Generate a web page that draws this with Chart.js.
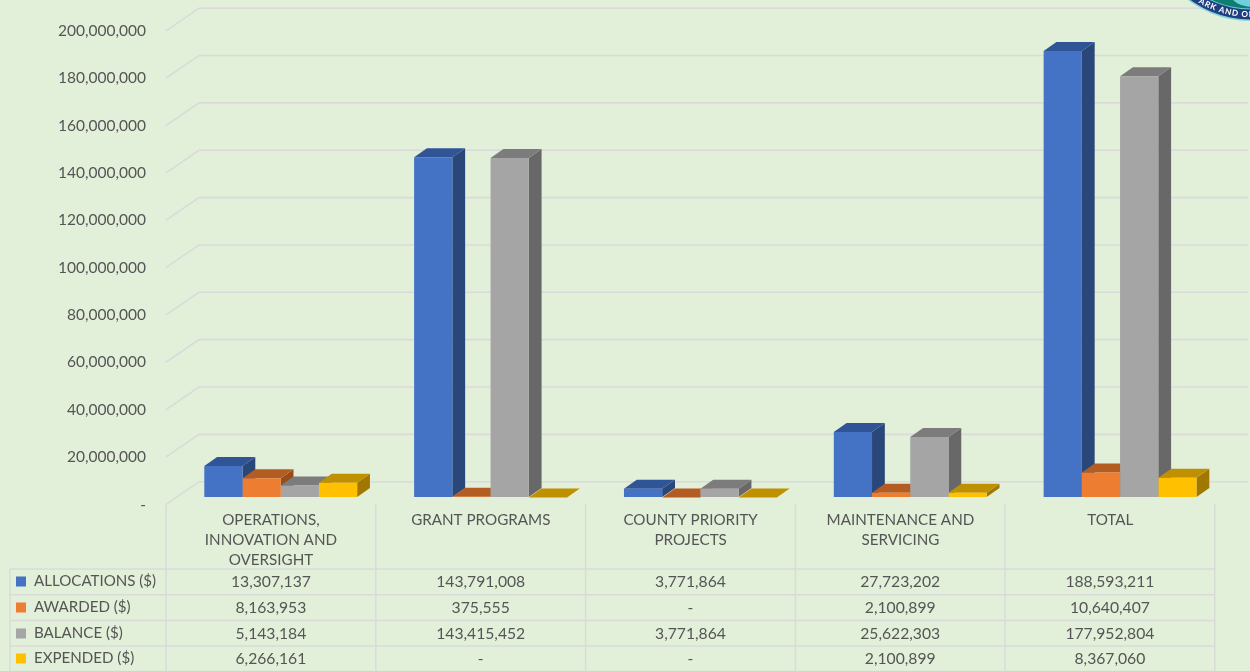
<!DOCTYPE html>
<html><head><meta charset="utf-8">
<style>html,body{margin:0;padding:0;background:#E2EFD9;overflow:hidden}canvas{display:block}</style>
<script src="https://cdn.jsdelivr.net/npm/chart.js@4"></script>
</head><body><canvas id="c" width="1250" height="671"></canvas>
<script>
const categories = ["OPERATIONS, INNOVATION AND OVERSIGHT","GRANT PROGRAMS","COUNTY PRIORITY PROJECTS","MAINTENANCE AND SERVICING","TOTAL"];
const allocations = [13307137,143791008,3771864,27723202,188593211];
const awarded = [8163953,375555,0,2100899,10640407];
const balance = [5143184,143415452,3771864,25622303,177952804];
const expended = [6266161,0,0,2100899,8367060];
const seriesNames = ["ALLOCATIONS ($)","AWARDED ($)","BALANCE ($)","EXPENDED ($)"];
const seriesValues = [allocations,awarded,balance,expended];
const seriesColors = ["#4472C4","#ED7D31","#A5A5A5","#FFC000"];
const topColors = ["#2F5597","#B45D22","#7C7C7C","#BF9000"];
const sideColors = ["#2A4779","#964E1D","#686868","#A07800"];
const FONT = "Lato, 'Open Sans', sans-serif";
const TEXT = "#555555", LINE = "#DADADA";
const fmt = v => v === 0 ? "-" : v.toLocaleString("en-US");
function wrap(s){const out=[];let cur="";for(const w of s.split(" ")){if(cur&&(cur+" "+w).length>18){out.push(cur);cur=w}else cur=cur?cur+" "+w:w}out.push(cur);return out}

const depth3d = {
  id:"depth3d",
  beforeDatasetsDraw(chart){
    const {ctx}=chart, y=chart.scales.y;
    ctx.save();
    ctx.strokeStyle=LINE;ctx.lineWidth=1.6;
    y.ticks.forEach(t=>{
      const p=y.getPixelForValue(t.value);
      ctx.beginPath();ctx.moveTo(166,p+6.7);ctx.lineTo(199,p-15.9);ctx.lineTo(1248,p-15.9);ctx.stroke();
    });
    const dx=12.8,dy=9;
    chart.data.datasets.forEach((d,i)=>{
      chart.getDatasetMeta(i).data.forEach(el=>{
        const {x,y:top,base,width}=el.getProps(["x","y","base","width"],true);
        const l=x-width/2,r=x+width/2;
        ctx.fillStyle=sideColors[i];
        ctx.beginPath();ctx.moveTo(r,top);ctx.lineTo(r+dx,top-dy);ctx.lineTo(r+dx,base-dy);ctx.lineTo(r,base);ctx.closePath();ctx.fill();
        ctx.fillStyle=topColors[i];
        ctx.beginPath();ctx.moveTo(l,top);ctx.lineTo(l+dx,top-dy);ctx.lineTo(r+dx,top-dy);ctx.lineTo(r,top);ctx.closePath();ctx.fill();
      });
    });
    ctx.restore();
  },
  afterDraw(chart){
    const {ctx}=chart;
    const cols=[166,375.8,585.6,795.4,1005,1214.8];
    const rows=[569,594.7,620.5,646,671.5];
    ctx.save();
    ctx.strokeStyle=LINE;ctx.lineWidth=1.4;
    cols.forEach(x=>{ctx.beginPath();ctx.moveTo(x,504);ctx.lineTo(x,671);ctx.stroke()});
    ctx.beginPath();ctx.moveTo(10,569);ctx.lineTo(10,671);ctx.stroke();
    rows.forEach(y=>{ctx.beginPath();ctx.moveTo(10,y);ctx.lineTo(1215,y);ctx.stroke()});
    ctx.fillStyle=TEXT;ctx.textBaseline="middle";
    const centers=[581.5,607.5,633.5,658.5];
    seriesNames.forEach((n,i)=>{
      ctx.fillStyle=seriesColors[i];
      ctx.fillRect(16,centers[i]-5,10,10);
      ctx.fillStyle=TEXT;ctx.textAlign="left";
      ctx.font="15.1px "+FONT;
      ctx.fillText(n,34,centers[i]);
      ctx.textAlign="center";
      ctx.font="15.7px "+FONT;
      seriesValues[i].forEach((v,j)=>ctx.fillText(fmt(v),(cols[j]+cols[j+1])/2,centers[i]));
    });
    // partial emblem, top-right corner
    const cx=1250,cy=-81;
    const disc=(c,r)=>{ctx.fillStyle=c;ctx.beginPath();ctx.arc(cx,cy,r,0,Math.PI*2);ctx.fill()};
    disc("#7FD3DE",102);disc("#1F3F7F",100.5);disc("#6CCBD8",90.5);disc("#0E7F6E",89.5);
    ctx.fillStyle="#6FCFDC";ctx.beginPath();ctx.ellipse(1254,-5,23,12,0,0,Math.PI*2);ctx.fill();
    ctx.fillStyle="#FFFFFF";ctx.font="bold 8.2px "+FONT;ctx.textAlign="center";
    const txt="PARK AND OPE",R=95.4;let a=2.19;
    for(const ch of txt){
      const w=(ctx.measureText(ch).width+0.7)/R;
      a-=w/2;
      ctx.save();ctx.translate(cx+R*Math.cos(a),cy+R*Math.sin(a));ctx.rotate(a-Math.PI/2);ctx.fillText(ch,0,0);ctx.restore();
      a-=w/2;
    }
    ctx.restore();
  }
};

new Chart(document.getElementById("c"),{
  type:"bar",
  data:{labels:categories,datasets:seriesNames.map((n,i)=>({label:n,data:seriesValues[i],backgroundColor:seriesColors[i],borderWidth:0,barPercentage:1,categoryPercentage:0.7285}))},
  options:{
    responsive:false,animation:false,
    layout:{padding:{top:0,right:25,bottom:0,left:0}},
    plugins:{legend:{display:false},tooltip:{enabled:false}},
    scales:{
      x:{
        afterFit(s){s.height=173.4},
        grid:{display:false,drawTicks:false},border:{display:false},
        ticks:{color:TEXT,font:{family:FONT,size:15.2,lineHeight:1.3},padding:13,labelOffset:-9.8,autoSkip:false,maxRotation:0,minRotation:0,
          callback(v){return wrap(this.getLabelForValue(v))}}
      },
      y:{
        min:0,max:200000000,
        afterFit(s){s.width=175.8},
        grid:{drawOnChartArea:false,drawTicks:true,tickLength:15.0,color:"rgba(0,0,0,0)"},border:{display:false},
        ticks:{stepSize:20000000,color:TEXT,font:{family:FONT,size:15.5},padding:14.8,labelOffset:6.9,callback:v=>fmt(v)}
      }
    }
  },
  plugins:[depth3d]
});
</script></body></html>
